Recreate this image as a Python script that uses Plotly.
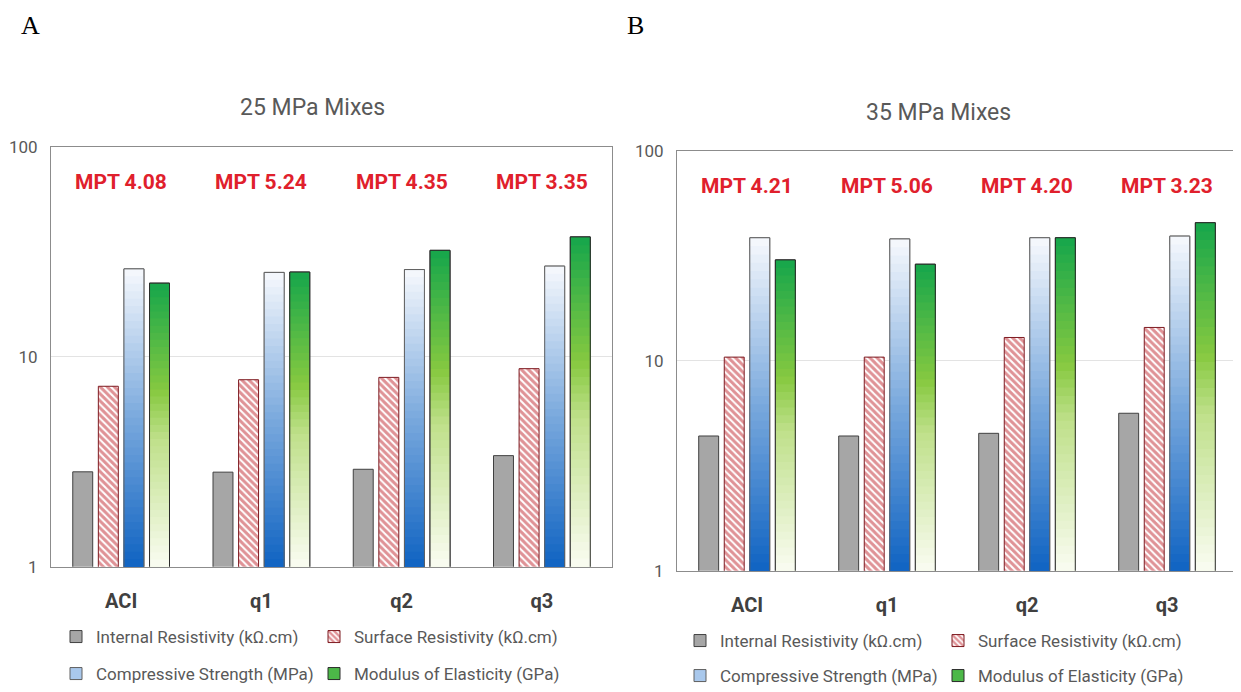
import plotly.graph_objects as go

# ---------------- data ----------------
categories = ["ACI", "q1", "q2", "q3"]

series_names = [
    "Internal Resistivity (kΩ.cm)",
    "Surface Resistivity (kΩ.cm)",
    "Compressive Strength (MPa)",
    "Modulus of Elasticity (GPa)",
]

# 25 MPa mixes (panel A)
a_internal = [2.83, 2.82, 2.91, 3.38]
a_surface = [7.23, 7.77, 7.97, 8.77]
a_compressive = [26.2, 25.2, 26.0, 27.0]
a_modulus = [22.4, 25.3, 32.1, 37.2]
a_mpt = ["MPT 4.08", "MPT 5.24", "MPT 4.35", "MPT 3.35"]

# 35 MPa mixes (panel B)
b_internal = [4.38, 4.38, 4.51, 5.62]
b_surface = [10.4, 10.4, 12.9, 14.4]
b_compressive = [38.5, 38.0, 38.5, 39.2]
b_modulus = [30.2, 28.8, 38.5, 45.4]
b_mpt = ["MPT 4.21", "MPT 5.06", "MPT 4.20", "MPT 3.23"]

panel_titles = ["25 MPa Mixes", "35 MPa Mixes"]
panel_letters = ["A", "B"]
y_tickvals = [1, 10, 100]
y_ticktext = ["1", "10", "100"]

# ---------------- styles ----------------
SANS = "Roboto, Liberation Sans, sans-serif"
TXT = "#595959"
N_SEG = 40

# page offset (browser body margin) and figure size that fits the viewport
OFF = 8
W, H = 1241 - OFF, 692 - OFF


def px_x(v):
    return (v - OFF) / W


def px_y(v):
    return 1 - (v - OFF) / H


def hex2rgb(h):
    h = h.lstrip("#")
    return tuple(int(h[i:i + 2], 16) for i in (0, 2, 4))


def interp(stops, t):
    for (t0, c0), (t1, c1) in zip(stops[:-1], stops[1:]):
        if t0 <= t <= t1:
            f = (t - t0) / (t1 - t0) if t1 > t0 else 0
            a, b = hex2rgb(c0), hex2rgb(c1)
            return "rgb(%d,%d,%d)" % tuple(round(a[k] + (b[k] - a[k]) * f) for k in range(3))
    return stops[-1][1]


blue_stops = [(0.0, "#0f63c2"), (0.5, "#7aa9dd"), (1.0, "#f7f9fd")]
green_stops = [(0.0, "#fafcf2"), (0.45, "#bfe08a"), (0.62, "#86c940"), (1.0, "#15a64b")]

fig = go.Figure()


def add_panel(xa, ya, legA, legB, internal, surface, compressive, modulus):
    # internal resistivity - solid grey
    fig.add_trace(go.Bar(
        x=categories, y=internal, name=series_names[0], xaxis=xa, yaxis=ya,
        offsetgroup="1", legend=legA,
        marker=dict(color="#a6a6a6", line=dict(color="#404040", width=1)),
    ))
    # surface resistivity - red diagonal hatch
    fig.add_trace(go.Bar(
        x=categories, y=surface, name=series_names[1], xaxis=xa, yaxis=ya,
        offsetgroup="2", legend=legA,
        marker=dict(color="white", line=dict(color="#7d1a20", width=1),
                    pattern=dict(shape="\\", fgcolor="#c0262e", bgcolor="white",
                                 size=5, solidity=0.6)),
    ))
    # gradient series
    for vals, grp, stops, legcol, outline, nm in [
        (compressive, "3", blue_stops, "#a9c8ec", "#606060", series_names[2]),
        (modulus, "4", green_stops, "#4cb848", "#2a2a2a", series_names[3]),
    ]:
        fig.add_trace(go.Bar(
            x=categories, y=vals, name=nm, xaxis=xa, yaxis=ya,
            offsetgroup=grp, legend=legB,
            marker=dict(color=legcol, line=dict(color=outline, width=1)),
        ))
        for i in range(N_SEG - 1, -1, -1):
            frac = (i + 1) / N_SEG
            fig.add_trace(go.Bar(
                x=categories, y=[v ** frac for v in vals], xaxis=xa, yaxis=ya,
                offsetgroup=grp, showlegend=False, hoverinfo="skip",
                marker=dict(color=interp(stops, (i + 0.5) / N_SEG), line=dict(width=0)),
            ))
        fig.add_trace(go.Bar(
            x=categories, y=vals, name=nm, xaxis=xa, yaxis=ya,
            offsetgroup=grp, showlegend=False,
            marker=dict(color="rgba(0,0,0,0)", line=dict(color=outline, width=1)),
        ))


add_panel("x", "y", "legend", "legend2", a_internal, a_surface, a_compressive, a_modulus)
add_panel("x2", "y2", "legend3", "legend4", b_internal, b_surface, b_compressive, b_modulus)

xcommon = dict(type="category", showline=True, mirror=True, linecolor="#8c8c8c",
               linewidth=1, ticks="", showgrid=False, automargin=False,
               tickfont=dict(family=SANS, size=20, color="#404040", weight="bold"),
               ticklabelstandoff=16)
ycommon = dict(type="log", range=[0, 2], tickvals=y_tickvals, ticktext=y_ticktext,
               showline=True, mirror=True, linecolor="#8c8c8c", linewidth=1,
               showgrid=True, gridcolor="#e3e3e3", gridwidth=1, zeroline=False,
               automargin=False,
               ticks="", tickfont=dict(family=SANS, size=17, color=TXT),
               ticklabelstandoff=9)

fig.update_layout(
    width=W, height=H,
    margin=dict(l=0, r=0, t=0, b=0, pad=0, autoexpand=False),
    paper_bgcolor="white", plot_bgcolor="white",
    barmode="group", bargap=0.27, bargroupgap=0.22,
    xaxis=dict(domain=[px_x(51), px_x(612)], anchor="y", **xcommon),
    yaxis=dict(domain=[px_y(566.7), px_y(146.7)], anchor="x", **ycommon),
    xaxis2=dict(domain=[px_x(677), px_x(1237)], anchor="y2", **xcommon),
    yaxis2=dict(domain=[px_y(570.7), px_y(150.7)], anchor="x2", **ycommon),
)

legfont = dict(family=SANS, size=17, color=TXT)
legcommon = dict(orientation="h", font=legfont, entrywidth=213, entrywidthmode="pixels",
                 bgcolor="rgba(0,0,0,0)", yanchor="middle", xanchor="left",
                 itemclick=False, itemdoubleclick=False, tracegroupgap=0)
fig.update_layout(
    legend=dict(x=px_x(56), y=px_y(637), **legcommon),
    legend2=dict(x=px_x(56), y=px_y(674), **legcommon),
    legend3=dict(x=px_x(680), y=px_y(641), **legcommon),
    legend4=dict(x=px_x(680), y=px_y(676), **legcommon),
)

annotations = []
# panel letters
for letter, px in zip(panel_letters, [30, 635]):
    annotations.append(dict(text=letter, x=px_x(px), y=px_y(25), xref="paper", yref="paper",
                            showarrow=False, xanchor="center", yanchor="middle",
                            font=dict(family="Liberation Serif, Times New Roman, serif",
                                      size=26, color="black")))
# panel titles
for title, px, py in zip(panel_titles, [312, 938], [107, 112]):
    annotations.append(dict(text=title, x=px_x(px), y=px_y(py), xref="paper", yref="paper",
                            showarrow=False, xanchor="center", yanchor="middle",
                            font=dict(family=SANS, size=23, color=TXT)))
# MPT labels
for xr, yr, labels in [("x", "y domain", a_mpt), ("x2", "y2 domain", b_mpt)]:
    for cat, lab in zip(categories, labels):
        annotations.append(dict(text=lab, x=cat, y=0.916, xref=xr, yref=yr,
                                showarrow=False, xanchor="center", yanchor="middle",
                                font=dict(family=SANS, size=21, color="#e0202c",
                                          weight="bold")))
fig.update_layout(annotations=annotations)

fig.write_html("out.html")
